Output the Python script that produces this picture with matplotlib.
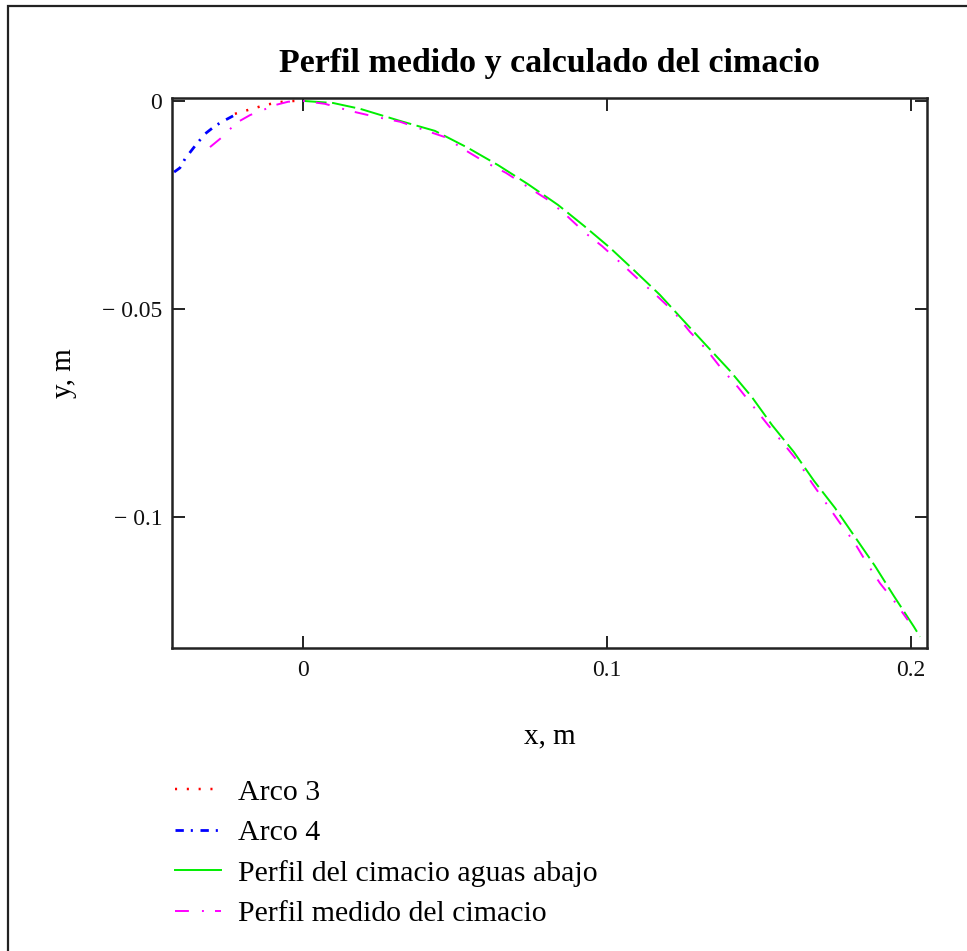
import matplotlib
matplotlib.use("Agg")
import matplotlib.pyplot as plt
from matplotlib.lines import Line2D
from matplotlib.patches import Rectangle

plt.rcParams["font.family"] = ["Liberation Serif", "DejaVu Serif"]
plt.rcParams["lines.scale_dashes"] = False

# Arco 3 (crest, upstream arc)
arco3_x = [-0.0224, -0.0191, -0.0158, -0.0125, -0.0092, -0.0059, -0.0026, 0.0]
arco3_y = [-0.0031, -0.0024, -0.0017, -0.0010, -0.0005, -0.0001, 0.0, 0.0]

# Arco 4 (upstream arc)
arco4_x = [-0.0424, -0.0405, -0.0388, -0.0355, -0.0322, -0.0289, -0.0266, -0.0230]
arco4_y = [-0.0171, -0.0161, -0.0139, -0.0108, -0.0079, -0.0060, -0.0050, -0.0036]

# Calculated downstream profile
calc_x = [0.0, 0.0099, 0.0188, 0.0319, 0.0434, 0.0543, 0.0641, 0.0740, 0.0839,
          0.0924, 0.1010, 0.1092, 0.1174, 0.1253, 0.1326, 0.1405, 0.1477, 0.1543,
          0.1615, 0.1681, 0.1750, 0.1816, 0.1882, 0.1944, 0.2010, 0.2030]
calc_y = [0.0, -0.0005, -0.0019, -0.0048, -0.0072, -0.0113, -0.0154, -0.0200, -0.0250,
          -0.0300, -0.0353, -0.0409, -0.0466, -0.0529, -0.0587, -0.0649, -0.0712, -0.0779,
          -0.0844, -0.0913, -0.0978, -0.1048, -0.1118, -0.1190, -0.1264, -0.1288]

# Measured profile
med_x = [-0.0306, -0.0266, -0.0220, -0.0174, -0.0132, -0.0092, -0.0049, 0.0, 0.0072,
         0.0155, 0.0237, 0.0319, 0.0467, 0.0526, 0.0599, 0.0668, 0.0740, 0.0806,
         0.0862, 0.0928, 0.0984, 0.1049, 0.1102, 0.1168, 0.1220, 0.1273, 0.1329,
         0.1375, 0.1431, 0.1480, 0.1530, 0.1579, 0.1632, 0.1674, 0.1720, 0.1766,
         0.1813, 0.1855, 0.1898, 0.1947, 0.1990]
med_y = [-0.0111, -0.0087, -0.0053, -0.0034, -0.0022, -0.0010, -0.0002, 0.0, -0.0007,
         -0.0024, -0.0038, -0.0050, -0.0087, -0.0115, -0.0147, -0.0173, -0.0207, -0.0238,
         -0.0272, -0.0317, -0.0349, -0.0392, -0.0428, -0.0471, -0.0507, -0.0555, -0.0599,
         -0.0642, -0.0688, -0.0733, -0.0779, -0.0822, -0.0870, -0.0918, -0.0966, -0.1014,
         -0.1060, -0.1111, -0.1159, -0.1204, -0.1248]

x_ticks = [0.0, 0.1, 0.2]
x_tick_labels = ["0", "0.1", "0.2"]
y_ticks = [0.0, -0.05, -0.1]
y_tick_labels = ["0", "\u2212 0.05", "\u2212 0.1"]

series_labels = ["Arco 3", "Arco 4", "Perfil del cimacio aguas abajo",
                 "Perfil medido del cimacio"]

W, H = 967, 951
fig = plt.figure(figsize=(W / 100, H / 100), dpi=100)

# outer frame (left and top edges visible)
fig.patches.append(Rectangle((8 / W, -0.2), 2, 1.2 - 6 / H, transform=fig.transFigure,
                             fill=False, edgecolor="#222222", linewidth=1.6))

ax = fig.add_axes([172 / W, 1 - 648 / H, (927 - 172) / W, (648 - 98) / H])

lw = 1.4
red_dash = (0, (1.5, 7))
blue_dash = (0, (6, 5, 1.5, 5.5))
green_dash = (0, (17, 4))
mag_dash = (0, (10, 9.4, 1.4, 8))

ax.plot(arco3_x, arco3_y, color="#ff0000", lw=lw + 0.4, linestyle=red_dash)
ax.plot(arco4_x, arco4_y, color="#0000ff", lw=lw + 0.6, linestyle=blue_dash)
ax.plot(calc_x, calc_y, color="#00ee00", lw=lw, linestyle=green_dash)
ax.plot(med_x, med_y, color="#ff00ff", lw=lw, linestyle=mag_dash)

ax.set_xlim(-0.0431, 0.2053)
ax.set_ylim(-0.1315, 0.0007)
ax.set_xticks(x_ticks, x_tick_labels)
ax.set_yticks(y_ticks, y_tick_labels)
ax.tick_params(direction="in", length=9, width=1.3, top=True, right=True,
               labelsize=17, colors="#111111", pad=7)
ax.tick_params(axis="x", pad=9)
for s in ax.spines.values():
    s.set_linewidth(1.8)
    s.set_color("#222222")

ax.set_title("Perfil medido y calculado del cimacio", fontsize=24.5,
             fontweight="bold", pad=19)
ax.set_xlabel("x, m", fontsize=21)
ax.set_ylabel("y, m", fontsize=21)
ax.xaxis.set_label_coords((550 - 172) / 755, (648 - 723) / 550)
ax.yaxis.set_label_coords((77 - 172) / 755, 0.5)

handles = [
    Line2D([], [], color="#ff0000", lw=lw + 0.4, linestyle=red_dash),
    Line2D([], [], color="#0000ff", lw=lw + 0.6, linestyle=blue_dash),
    Line2D([], [], color="#00ee00", lw=lw),
    Line2D([], [], color="#ff00ff", lw=lw, linestyle=mag_dash),
]
fig.legend(handles, series_labels, loc="upper left",
           bbox_to_anchor=(175 / W, 1 - 779 / H), frameon=False,
           fontsize=21.5, handlelength=1.55, handletextpad=0.57,
           labelspacing=0.45, borderpad=0, borderaxespad=0)

fig.savefig("out.png", dpi=100)
